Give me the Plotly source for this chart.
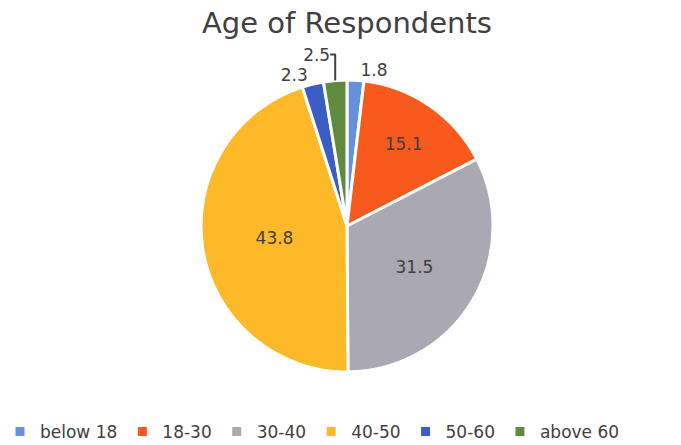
import plotly.graph_objects as go

categories = ["below 18", "18-30", "30-40", "40-50", "50-60", "above 60"]
values = [1.8, 15.1, 31.5, 43.8, 2.3, 2.5]
colors = ["#6790dc", "#f85a1e", "#a9a8b3", "#fdb927", "#3c5ec4", "#5e8b40"]
text_pos = ["outside", "inside", "inside", "inside", "outside", "outside"]

W, H = 681, 445
cx, cy, r = 347, 226, 146

fig = go.Figure(go.Pie(
    labels=categories,
    values=values,
    sort=False,
    direction="clockwise",
    rotation=0,
    marker=dict(colors=colors, line=dict(color="white", width=3)),
    texttemplate="%{value}",
    textposition=text_pos,
    insidetextorientation="horizontal",
    textfont=dict(family="DejaVu Sans", size=17, color="#404040"),
    domain=dict(x=[(cx - r) / W, (cx + r) / W], y=[1 - (cy + r) / H, 1 - (cy - r) / H]),
    hoverinfo="label+value",
))

fig.update_layout(
    width=W, height=H,
    margin=dict(l=0, r=0, t=0, b=0, autoexpand=False),
    paper_bgcolor="white",
    title=dict(text="Age of Respondents", x=347 / W, xanchor="center", y=1 - 23 / H, yanchor="middle",
               font=dict(family="DejaVu Sans", size=29, color="#404040")),
    legend=dict(orientation="h", x=0.0, xanchor="left", y=1 - 432 / H, yanchor="middle",
                font=dict(family="DejaVu Sans", size=17, color="#404040"), itemwidth=30,
                traceorder="normal"),
    showlegend=True,
)

fig.write_html("out.html", config={"displayModeBar": False},
               post_script="document.body.style.margin='0';document.body.style.overflow='hidden';")
